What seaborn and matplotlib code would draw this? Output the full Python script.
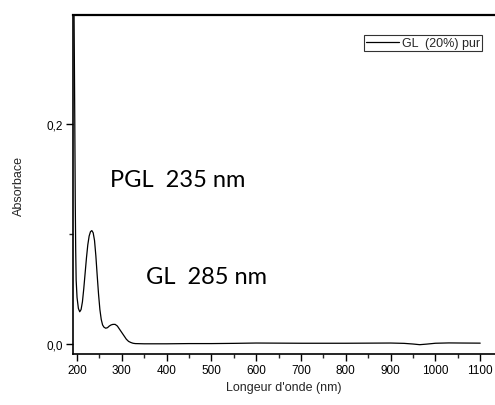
import numpy as np
import pandas as pd
import matplotlib
matplotlib.use("Agg")
import matplotlib.pyplot as plt
import seaborn as sns
from matplotlib.ticker import MultipleLocator

# UV-Vis spectrum
wavelength = [191, 193, 195, 196, 197, 198, 200, 203, 206, 209, 212, 215, 218,
              221, 224, 227, 230, 233, 236, 239, 242, 245, 248, 251, 254, 257,
              260, 264, 268, 272, 276, 280, 285, 290, 295, 300, 305, 310, 315,
              320, 325, 330, 350, 400, 450, 500, 550, 600, 650, 700, 750, 800,
              850, 900, 930, 950, 965, 980, 1000, 1030, 1060, 1100]
absorbance = [0.40, 0.32, 0.20, 0.13, 0.085, 0.058, 0.042, 0.032, 0.029, 0.031,
              0.038, 0.050, 0.064, 0.078, 0.090, 0.098, 0.102, 0.103, 0.101,
              0.094, 0.080, 0.062, 0.045, 0.031, 0.022, 0.017, 0.015, 0.014,
              0.0145, 0.016, 0.017, 0.0175, 0.0175, 0.016, 0.013, 0.010, 0.007,
              0.004, 0.002, 0.001, 0.0003, 0.0, -0.0002, -0.0002, 0.0, 0.0,
              0.0002, 0.0005, 0.0004, 0.0003, 0.0003, 0.0003, 0.0004, 0.0005,
              0.0002, -0.0004, -0.0010, -0.0005, 0.0003, 0.0006, 0.0005, 0.0004]
series_name = "GL  (20%) pur"
annotations = [("PGL  235 nm", 425, 0.150), ("GL  285 nm", 488, 0.061)]
x_ticks = [200, 300, 400, 500, 600, 700, 800, 900, 1000, 1100]
y_ticks = [0.0, 0.2]

df = pd.DataFrame({"wl": wavelength, "abs": absorbance})

sns.set_theme(style="ticks")
plt.rcParams["font.family"] = ["Liberation Sans", "DejaVu Sans"]

fig = plt.figure(figsize=(4.95, 4.06), dpi=100)
ax = fig.add_axes([0.1475, 0.1256, 0.8525, 0.835])

sns.lineplot(data=df, x="wl", y="abs", color="black", linewidth=0.9,
             label=series_name, ax=ax)

ax.set_xlim(191, 1133)
ax.set_ylim(-0.0095, 0.2995)
ax.set_xticks(x_ticks)
ax.xaxis.set_minor_locator(MultipleLocator(50))
ax.set_yticks(y_ticks)
ax.set_yticklabels([f"{v:.1f}".replace(".", ",") for v in y_ticks])
ax.yaxis.set_minor_locator(MultipleLocator(0.1))
ax.tick_params(axis="both", which="major", length=5, width=1, labelsize=8.5,
               colors="black", pad=2)
ax.tick_params(axis="both", which="minor", length=3, width=1)

for side in ["left", "top", "bottom"]:
    ax.spines[side].set_visible(True)
    ax.spines[side].set_color("black")
    ax.spines[side].set_linewidth(1.2)
ax.spines["top"].set_linewidth(1.6)
ax.spines["right"].set_visible(False)

ax.set_xlabel("Longeur d'onde (nm)", fontsize=9, labelpad=4)
ax.set_ylabel("Absorbace", fontsize=9, labelpad=16)

for text, x, y in annotations:
    ax.text(x, y, text, fontsize=17, family=["Lato", "DejaVu Sans"],
            ha="center", va="center", color="black")

leg = ax.legend(loc="upper right", bbox_to_anchor=(0.97, 0.94), fontsize=9,
                frameon=True, fancybox=False, borderpad=0.15,
                handlelength=2.6, handletextpad=0.3, borderaxespad=0)
leg.get_frame().set_edgecolor("black")
leg.get_frame().set_linewidth(0.8)

fig.savefig("out.png", dpi=100)
